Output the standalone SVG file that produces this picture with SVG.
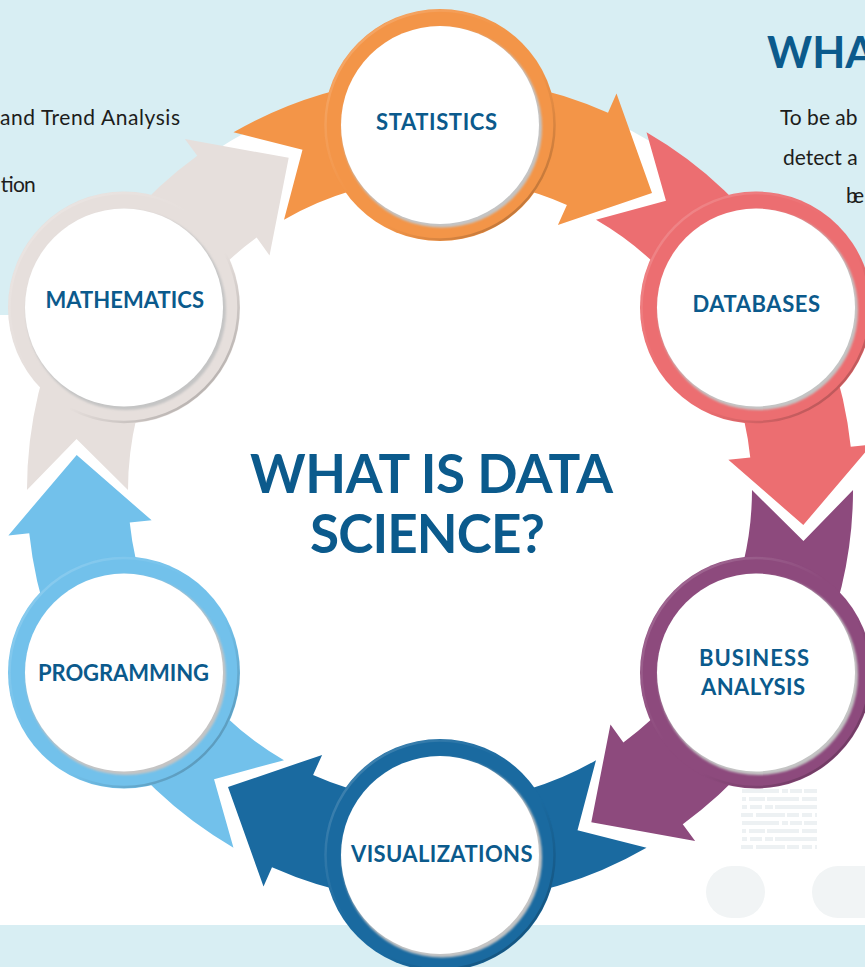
<svg xmlns="http://www.w3.org/2000/svg" xmlns:xlink="http://www.w3.org/1999/xlink" width="865" height="967" viewBox="0 0 865 967">
<defs>
<style>
.lbl{font-family:Lato,"Open Sans","Liberation Sans",sans-serif;font-weight:700;font-size:22px;fill:#0b5a8c}
.title{font-family:Lato,"Open Sans","Liberation Sans",sans-serif;font-weight:700;font-size:53px;fill:#0b5a8c}
.head{font-family:Lato,"Open Sans","Liberation Sans",sans-serif;font-weight:700;font-size:43px;fill:#0b5a8c}
.body{font-family:Lato,"Open Sans","Liberation Sans",sans-serif;font-size:21px;fill:#1d1d1b}
.ph{fill:#edf1f3}
.pill{fill:#f1f4f5}
.edge{fill:none;stroke:url(#edgeGrad);stroke-width:2.5}
.shadow{fill:#c4c4c4;filter:url(#blur)}
.face{fill:#ffffff}
</style>
<linearGradient id="edgeGrad" x1="0" y1="0" x2="1" y2="1">
<stop offset="0" stop-color="#ffffff" stop-opacity="0.22"/>
<stop offset="0.45" stop-color="#ffffff" stop-opacity="0"/>
<stop offset="0.6" stop-color="#000000" stop-opacity="0"/>
<stop offset="1" stop-color="#000000" stop-opacity="0.3"/>
</linearGradient>
<filter id="blur" x="-10%" y="-10%" width="120%" height="120%"><feGaussianBlur stdDeviation="1.3"/></filter>
<path id="arrow" d="M233.5,132.3 A413,413 0 0 1 608,112.7 L616.5,93.5 L652,192.9 L557.9,225.1 L566.9,205 A312,312 0 0 0 284,219.8 L302.5,149.7 Z"/>
<g id="rows4">
<rect class="ph" x="742" y="789" width="37" height="4"/><rect class="ph" x="782" y="789" width="6" height="4"/><rect class="ph" x="790" y="789" width="12" height="4"/><rect class="ph" x="804" y="789" width="13" height="4"/>
<rect class="ph" x="742" y="797" width="4" height="4"/><rect class="ph" x="749" y="797" width="16" height="4"/><rect class="ph" x="767" y="797" width="32" height="4"/><rect class="ph" x="802" y="797" width="15" height="4"/>
<rect class="ph" x="742" y="805" width="5" height="4"/><rect class="ph" x="750" y="805" width="12" height="4"/><rect class="ph" x="765" y="805" width="8" height="4"/><rect class="ph" x="775" y="805" width="42" height="4"/>
<rect class="ph" x="741" y="813" width="12" height="4"/><rect class="ph" x="756" y="813" width="29" height="4"/><rect class="ph" x="787" y="813" width="12" height="4"/><rect class="ph" x="802" y="813" width="10" height="4"/><rect class="ph" x="815" y="813" width="2" height="4"/>
</g>
</defs>

<g id="background">
<rect x="0" y="0" width="865" height="967" fill="#ffffff"/>
<rect x="0" y="0" width="865" height="315" fill="#d8eef3"/>
<rect x="0" y="925" width="865" height="42" fill="#d8eef3"/>
<circle cx="440" cy="490" r="407" fill="#ffffff"/>
<use xlink:href="#rows4"/>
<use xlink:href="#rows4" transform="translate(0,32)"/>
<rect class="pill" x="706" y="866" width="59" height="52" rx="26"/>
<rect class="pill" x="812" y="866" width="120" height="52" rx="26"/>
</g>

<g id="side-text">
<text class="body" x="0" y="125" textLength="180">and Trend Analysis</text>
<text class="body" x="0" y="192" textLength="35">tion</text>
<text class="head" x="767" y="68">WHAT</text>
<text class="body" x="780" y="125">To be ab</text>
<text class="body" x="783" y="165">detect a</text>
<text class="body" x="846" y="203" textLength="18">be</text>
</g>

<g id="connectors">
<use xlink:href="#arrow" fill="#f39548"/>
<use xlink:href="#arrow" fill="#ec6e71" transform="rotate(60 440 490)"/>
<use xlink:href="#arrow" fill="#8d4a7d" transform="rotate(120 440 490)"/>
<use xlink:href="#arrow" fill="#1a6aa0" transform="rotate(180 440 490)"/>
<use xlink:href="#arrow" fill="#72c1eb" transform="rotate(240 440 490)"/>
<use xlink:href="#arrow" fill="#e6dfdc" transform="rotate(300 440 490)"/>
</g>

<g id="node-statistics">
<circle cx="440" cy="125" r="116" fill="#f39548"/>
<circle class="edge" cx="440" cy="125" r="114.5"/>
<circle class="shadow" cx="442" cy="127.5" r="100"/>
<circle class="face" cx="440" cy="125" r="99"/>
<text class="lbl" x="376" y="130" textLength="121">STATISTICS</text>
</g>

<g id="node-databases">
<circle cx="756" cy="307.5" r="116" fill="#ec6e71"/>
<circle class="edge" cx="756" cy="307.5" r="114.5"/>
<circle class="shadow" cx="758" cy="310" r="100"/>
<circle class="face" cx="756" cy="307.5" r="99"/>
<text class="lbl" x="692.5" y="311.5" textLength="127.5">DATABASES</text>
</g>

<g id="node-business-analysis">
<circle cx="756" cy="672.5" r="116" fill="#8d4a7d"/>
<circle class="edge" cx="756" cy="672.5" r="114.5"/>
<circle class="shadow" cx="758" cy="675" r="100"/>
<circle class="face" cx="756" cy="672.5" r="99"/>
<text class="lbl" x="699" y="665.5" textLength="110">BUSINESS</text>
<text class="lbl" x="701" y="695" textLength="104">ANALYSIS</text>
</g>

<g id="node-visualizations">
<circle cx="440" cy="855" r="116" fill="#1a6aa0"/>
<circle class="edge" cx="440" cy="855" r="114.5"/>
<circle class="shadow" cx="442" cy="857.5" r="100"/>
<circle class="face" cx="440" cy="855" r="99"/>
<text class="lbl" x="351" y="861.5" textLength="181.5">VISUALIZATIONS</text>
</g>

<g id="node-programming">
<circle cx="124" cy="672.5" r="116" fill="#72c1eb"/>
<circle class="edge" cx="124" cy="672.5" r="114.5"/>
<circle class="shadow" cx="126" cy="675" r="100"/>
<circle class="face" cx="124" cy="672.5" r="99"/>
<text class="lbl" x="38" y="680.5" textLength="171">PROGRAMMING</text>
</g>

<g id="node-mathematics">
<circle cx="124" cy="307.5" r="116" fill="#e6dfdc"/>
<circle class="edge" cx="124" cy="307.5" r="114.5"/>
<circle class="shadow" cx="126" cy="310" r="100"/>
<circle class="face" cx="124" cy="307.5" r="99"/>
<text class="lbl" x="45.5" y="307.5" textLength="158.5">MATHEMATICS</text>
</g>

<g id="title">
<text class="title" x="250" y="493" textLength="363">WHAT IS DATA</text>
<text class="title" x="310" y="553" textLength="235">SCIENCE?</text>
</g>
</svg>
